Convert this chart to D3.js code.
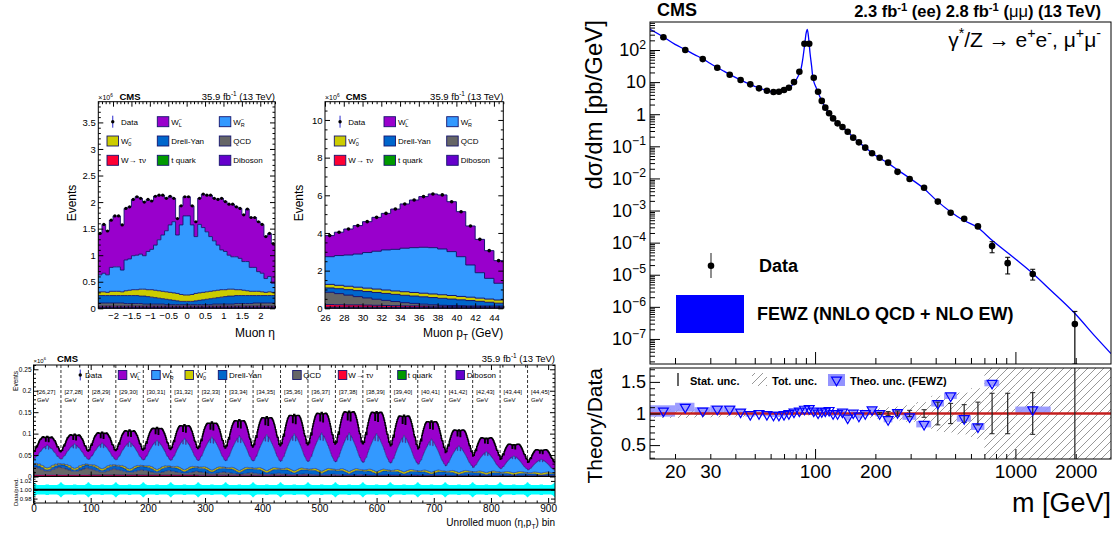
<!DOCTYPE html>
<html lang="en">
<head>
<meta charset="utf-8" />
<title>CMS W helicity distributions and Drell-Yan cross section</title>
<script src="https://d3js.org/d3.v7.min.js"></script>
<style>
  body { margin: 0; background: #fff; }
  svg { display: block; }
</style>
</head>
<body>
<svg id="chart" width="1113" height="534"></svg>
<script>
// ================= data =================
// stack order, bottom -> top
const stackKeys = ["dib", "topq", "tau", "qcd", "dy", "w0", "wr", "wl"];

// muon eta, 48 bins of 0.1 (x10^6 events), cumulative stack tops
const etaDibTop = [0.005,0.005,0.005,0.005,0.005,0.005,0.005,0.005,0.005,0.005,0.005,0.005,
  0.005,0.005,0.005,0.005,0.005,0.005,0.005,0.005,0.005,0.005,0.005,0.005,
  0.005,0.005,0.005,0.005,0.005,0.005,0.005,0.005,0.005,0.005,0.005,0.005,
  0.005,0.005,0.005,0.005,0.005,0.005,0.005,0.005,0.005,0.005,0.005,0.005];
const etaTopqTop = [0.015,0.015,0.015,0.015,0.015,0.015,0.015,0.015,0.015,0.015,0.015,0.015,
  0.015,0.015,0.015,0.015,0.015,0.015,0.015,0.015,0.015,0.015,0.015,0.015,
  0.015,0.015,0.015,0.015,0.015,0.015,0.015,0.015,0.015,0.015,0.015,0.015,
  0.015,0.015,0.015,0.015,0.015,0.015,0.015,0.015,0.015,0.015,0.015,0.015];
const etaTauTop = [0.04,0.04,0.04,0.04,0.04,0.04,0.04,0.04,0.04,0.04,0.04,0.04,
  0.04,0.04,0.04,0.04,0.04,0.04,0.04,0.04,0.04,0.04,0.04,0.04,
  0.04,0.04,0.04,0.04,0.04,0.04,0.04,0.04,0.04,0.04,0.04,0.04,
  0.04,0.04,0.04,0.04,0.04,0.04,0.04,0.04,0.04,0.04,0.04,0.04];
const etaQcdTop = [0.10,0.10,0.10,0.10,0.10,0.10,0.10,0.09,0.09,0.09,
  0.09,0.09,0.08,0.08,0.08,0.08,0.08,0.08,0.07,0.07,
  0.07,0.07,0.07,0.07,0.07,0.07,0.07,0.07,0.07,0.07,
  0.07,0.08,0.08,0.08,0.08,0.08,0.08,0.09,0.09,0.09,
  0.09,0.09,0.10,0.10,0.10,0.10,0.10,0.10];
const etaDyTop = [0.24,0.24,0.24,0.24,0.24,0.24,0.24,0.24,0.24,0.24,
  0.24,0.23,0.23,0.22,0.21,0.20,0.19,0.18,0.17,0.16,
  0.15,0.14,0.13,0.13,0.13,0.13,0.14,0.15,0.16,0.17,
  0.18,0.19,0.20,0.21,0.22,0.23,0.23,0.24,0.24,0.24,
  0.24,0.24,0.24,0.24,0.24,0.24,0.24,0.24];
const etaW0Top = [0.31,0.31,0.30,0.32,0.32,0.32,0.31,0.33,0.34,0.35,
  0.35,0.36,0.36,0.35,0.35,0.34,0.33,0.32,0.31,0.30,
  0.29,0.28,0.26,0.25,0.25,0.26,0.28,0.29,0.30,0.31,
  0.32,0.33,0.34,0.35,0.35,0.36,0.36,0.35,0.35,0.34,
  0.33,0.32,0.32,0.32,0.31,0.30,0.31,0.30];
const etaWRTop = [0.63,0.66,0.63,0.77,0.78,0.78,0.72,0.91,0.93,0.99,
  1.00,1.02,0.99,1.07,1.11,1.19,1.29,1.38,1.46,1.57,
  1.63,1.38,1.57,1.74,1.74,1.57,1.35,1.58,1.52,1.44,
  1.35,1.27,1.19,1.10,1.07,1.00,0.97,0.97,0.94,0.88,
  0.88,0.77,0.77,0.69,0.66,0.56,0.60,0.47];
const etaData = [1.41,1.58,1.455,1.66,1.74,1.74,1.57,1.88,1.91,2.05,
  2.10,2.07,2.00,2.05,2.02,2.11,2.13,2.13,2.07,2.11,
  2.07,1.69,1.93,2.10,2.10,1.93,1.63,2.07,2.15,2.13,
  2.13,2.07,2.05,2.07,2.01,1.96,1.96,1.91,1.88,1.76,
  1.87,1.71,1.71,1.63,1.58,1.35,1.41,1.22];

// muon pT, 19 bins of 1 GeV from 26 to 45 (x10^6 events), cumulative stack tops
const ptDibTop = [0.02,0.02,0.02,0.02,0.02,0.02,0.02,0.02,0.02,0.02,0.02,0.02,0.02,0.02,0.02,0.02,0.02,0.02,0.02];
const ptTopqTop = [0.06,0.06,0.06,0.06,0.06,0.06,0.05,0.05,0.05,0.05,0.05,0.05,0.05,0.05,0.05,0.04,0.04,0.04,0.04];
const ptTauTop = [0.20,0.19,0.18,0.18,0.17,0.16,0.15,0.14,0.13,0.13,0.12,0.11,0.11,0.10,0.10,0.09,0.09,0.08,0.08];
const ptQcdTop = [0.85,0.78,0.70,0.62,0.55,0.48,0.42,0.36,0.30,0.26,0.22,0.19,0.16,0.15,0.14,0.13,0.13,0.12,0.12];
const ptDyTop = [1.08,1.04,0.99,0.94,0.89,0.84,0.79,0.74,0.69,0.65,0.61,0.57,0.53,0.49,0.45,0.41,0.37,0.32,0.27];
const ptW0Top = [1.27,1.22,1.17,1.12,1.07,1.02,0.97,0.92,0.88,0.84,0.80,0.76,0.72,0.68,0.63,0.59,0.54,0.49,0.44];
const ptWRTop = [2.74,2.80,2.83,2.88,2.96,3.03,3.10,3.13,3.19,3.22,3.24,3.22,3.15,3.01,2.74,2.30,1.89,1.59,1.33];
const ptData = [3.86,4.04,4.21,4.39,4.60,4.83,5.04,5.27,5.54,5.75,5.93,6.07,6.02,5.66,5.13,4.37,3.66,3.06,2.53];
const ptBinLabels = ["[26,27]","[27,28]","[28,29]","[29,30]","[30,31]","[31,32]","[32,33]","[33,34]","[34,35]",
  "[35,36]","[36,37]","[37,38]","[38,39]","[39,40]","[40,41]","[41,42]","[42,43]","[43,44]","[44,45]"];

// shape of W_R and W_L across the 48 eta bins inside one unrolled pT slice (relative)
const unrollWRShape = [0.30,0.33,0.33,0.40,0.45,0.50,0.50,0.58,0.64,0.70,
  0.76,0.82,0.88,0.94,1.00,1.06,1.12,1.18,1.24,1.30,
  1.36,1.20,1.42,1.50,1.50,1.42,1.18,1.36,1.30,1.24,
  1.18,1.12,1.06,1.00,0.94,0.88,0.82,0.76,0.70,0.64,
  0.58,0.52,0.48,0.45,0.40,0.34,0.33,0.30];
const unrollWLShape = [0.75,0.80,0.78,0.88,0.95,1.00,0.92,1.08,1.12,1.16,
  1.20,1.22,1.24,1.25,1.24,1.22,1.18,1.12,1.06,1.00,
  0.94,0.82,0.90,0.88,0.88,0.90,0.80,0.94,1.00,1.06,
  1.12,1.18,1.22,1.24,1.25,1.24,1.22,1.20,1.16,1.12,
  1.08,1.00,0.95,0.97,0.88,0.78,0.80,0.75];
// data/prediction uncertainty band half width for each eta bin of a slice
const unrollRatioUnc = [0.017,0.016,0.014,0.013,0.012,0.012,0.011,0.011,0.011,0.011,
  0.011,0.011,0.011,0.011,0.011,0.011,0.011,0.011,0.011,0.011,
  0.011,0.012,0.012,0.012,0.012,0.012,0.012,0.011,0.011,0.011,
  0.011,0.011,0.011,0.011,0.011,0.011,0.011,0.011,0.011,0.011,
  0.011,0.011,0.012,0.012,0.013,0.014,0.016,0.017];

// Drell-Yan differential cross section
const dyEdges = [15,20,25,30,35,40,45,50,55,60,64,68,72,76,81,86,91,96,101,106,110,115,120,126,133,141,
  150,160,171,185,200,220,243,273,320,380,440,510,600,700,830,1000,1500,3000];
const dyMass = [17.5,22.5,27.5,32.5,37.5,42.5,47.5,52.5,57.5,62,66,70,74,78.5,83.5,88.5,93.5,98.5,103.5,108,
  112.5,117.5,123,129.5,137,145.5,155,165.5,178,192.5,210,231.5,258,296.5,350,410,475,555,650,765,915,1220,1980];
const dyXsec = [250,100,52,28,17,11.6,8.5,6.4,5.4,4.9,5.0,5.7,6.7,10,21,157,157,13.7,5.0,2.6,
  1.6,1.07,0.74,0.52,0.40,0.285,0.186,0.133,0.091,0.061,0.044,0.031,0.016,0.0096,0.0051,0.0019,
  8.5e-4,5.5e-4,3.2e-4,7.8e-5,2.3e-5,1.05e-5,2.9e-7];
const dyErrUp = [0.02,0.02,0.02,0.02,0.02,0.02,0.02,0.02,0.02,0.02,0.02,0.02,0.02,0.02,0.02,0.02,0.02,
  0.02,0.02,0.02,0.02,0.02,0.02,0.02,0.02,0.02,0.02,0.02,0.02,0.02,0.02,0.02,0.02,
  0.05,0.06,0.10,0.12,0.13,0.16,0.37,0.52,0.41,1.49];
const dyErrDn = [0.02,0.02,0.02,0.02,0.02,0.02,0.02,0.02,0.02,0.02,0.02,0.02,0.02,0.02,0.02,0.02,0.02,
  0.02,0.02,0.02,0.02,0.02,0.02,0.02,0.02,0.02,0.02,0.02,0.02,0.02,0.02,0.02,0.02,
  0.05,0.06,0.10,0.12,0.13,0.16,0.38,0.54,0.35,1.0];
// FEWZ prediction curve
const thMass = [15,17.5,20,22.5,25,27.5,30,35,40,45,50,55,60,64,68,72,76,80,83,84.7,
  86.7,88.7,90.2,91.5,92.9,94.4,96.2,97.3,98.5,101,104,108,112.5,117.5,123,129.5,137,145.5,155,165.5,
  178,192.5,210,231.5,258,296.5,350,406,474,550,646,762,1000,1202,1500,1977,2500,3000];
const thXsec = [441,255,150,103,72,53,38,22,14,9.8,7.4,5.9,5.1,4.8,5.0,5.8,7.4,11,17,22.6,
  49,144,330,441,230,79,30,14.8,10.5,7.0,4.4,2.6,1.6,1.07,0.74,0.52,0.39,0.285,0.19,0.133,
  0.092,0.062,0.043,0.030,0.0185,0.0102,0.0048,0.0020,9.2e-4,5.0e-4,3.0e-4,1.2e-4,3.1e-5,1.2e-5,3.3e-6,6.3e-7,1.2e-7,3.5e-8];
// theory/data ratio panel
const ratioTheo = [1.04,1.10,1.04,1.07,1.07,1.025,0.985,1.00,0.985,0.975,
  0.975,0.985,1.00,1.025,1.04,1.07,1.08,1.04,1.01,1.03,
  1.04,1.05,1.00,1.00,1.025,0.93,1.01,0.96,1.00,1.06,
  1.00,0.905,1.015,0.95,0.83,1.16,1.28,0.92,0.79,1.48,
  null,1.06,null];
const theoUnc = [0.09,0.07,0.06,0.06,0.06,0.045,0.035,0.03,0.03,0.03,
  0.03,0.03,0.03,0.03,0.03,0.03,0.03,0.03,0.03,0.035,
  0.035,0.035,0.035,0.035,0.035,0.04,0.04,0.04,0.04,0.04,
  0.045,0.045,0.045,0.05,0.05,0.05,0.05,0.05,0.05,0.05,
  0.05,0.05,0.05];
const statUnc = [0,0,0,0,0,0,0,0,0,0,0,0,0,0,0,0,0,0,0,0,0,0,0,0,0,0,0,0,0,0,
  0.015,0.03,0.04,0.05,0.06,0.18,0.16,0.14,0.18,0.32,0.32,0.33,3];
const totUnc = [0.07,0.07,0.06,0.06,0.06,0.05,0.04,0.04,0.035,0.035,
  0.03,0.03,0.03,0.03,0.03,0.03,0.03,0.03,0.03,0.03,
  0.03,0.035,0.035,0.04,0.04,0.045,0.05,0.055,0.06,0.07,
  0.08,0.10,0.11,0.13,0.18,0.28,0.30,0.33,0.40,0.75,
  1,1,1];

// ================= drawing =================
const FONT = "'Liberation Sans', Arial, Helvetica, sans-serif";
const NAVY = "#14146e";
const stackColor = {dib: "#6600cc", topq: "#009900", tau: "#ff0033", qcd: "#666666",
  dy: "#0066cc", w0: "#cccc00", wr: "#3399ff", wl: "#9900cc"};

const svg = d3.select("#chart");
svg.append("rect").attr("width", 1113).attr("height", 534).attr("fill", "#fff");
const defs = svg.append("defs");

// text with super/subscripts: parts are strings or [text, "sup"|"sub"|"", dx, weight]
function rich(g, x, y, parts, o = {}) {
  const fs = o.size || 10;
  const supLv = o.sup || -0.42;
  const t = g.append("text").attr("x", x).attr("y", y)
    .attr("font-family", FONT).attr("font-size", fs)
    .attr("font-weight", o.weight || "normal")
    .attr("text-anchor", o.anchor || "start").attr("fill", o.fill || "#000");
  if (o.rotate) t.attr("transform", `rotate(${o.rotate},${x},${y})`);
  let level = 0;
  parts.forEach(p => {
    const [s, mode, dx, w] = Array.isArray(p) ? p : [p, "", 0];
    const lv = mode === "sup" ? supLv : mode === "sub" ? 0.28 : 0;
    const ts = t.append("tspan").text(s);
    if (lv !== level) ts.attr("dy", ((lv - level) * fs).toFixed(2));
    if (dx) ts.attr("dx", dx);
    if (mode) ts.attr("font-size", (fs * 0.68).toFixed(2));
    if (w) ts.attr("font-weight", w);
    level = lv;
  });
  return t;
}

function frame(g, P) {
  g.append("rect").attr("x", P.x0).attr("y", P.y0)
    .attr("width", P.x1 - P.x0).attr("height", P.y1 - P.y0)
    .attr("fill", "none").attr("stroke", "#000").attr("stroke-width", 1);
}

// ticks point into the frame (ROOT style)
function axis(g, scale, side, pos, values, len, o = {}) {
  const make = {bottom: d3.axisBottom, top: d3.axisTop, left: d3.axisLeft, right: d3.axisRight}[side];
  const ax = make(scale).tickValues(values).tickSizeInner(-len).tickSizeOuter(0)
    .tickPadding(o.pad || 3).tickFormat(o.fmt || (() => ""));
  const horiz = side === "bottom" || side === "top";
  const a = g.append("g").attr("transform", horiz ? `translate(0,${pos})` : `translate(${pos},0)`).call(ax);
  a.attr("font-family", FONT).attr("font-size", o.fs || 10);
  a.select(".domain").remove();
  a.selectAll(".tick line").attr("stroke", "#000").attr("stroke-width", o.sw || 1);
  a.selectAll(".tick text").attr("fill", "#000");
  return a;
}

function minorTicks(a, b, step, majorStep) {
  const out = [];
  const n = Math.round((b - a) / step);
  for (let i = 0; i <= n; i++) {
    const v = +(a + i * step).toFixed(6);
    const r = v / majorStep;
    if (Math.abs(r - Math.round(r)) > 1e-6) out.push(v);
  }
  return out;
}

function drawStack(g, x, y, edges, tops, lw) {
  const n = edges.length - 1;
  const layers = tops.map((hi, k) => edges.map((e, i) => {
    const j = Math.min(i, n - 1);
    return {e, lo: k ? tops[k - 1][j] : 0, hi: hi[j]};
  }));
  const area = d3.area().curve(d3.curveStepAfter).x(d => x(d.e)).y0(d => y(d.lo)).y1(d => y(d.hi));
  const line = d3.line().curve(d3.curveStepAfter).x(d => x(d.e)).y(d => y(d.hi));
  layers.forEach((pts, k) => g.append("path").attr("d", area(pts)).attr("fill", stackColor[stackKeys[k]]));
  layers.forEach(pts => g.append("path").attr("d", line(pts))
    .attr("fill", "none").attr("stroke", NAVY).attr("stroke-width", lw));
}

const legendLabels = {
  data: ["Data"],
  wl: ["W", ["\u2212", "sup"], ["L", "sub", -3.4]],
  wr: ["W", ["\u2212", "sup"], ["R", "sub", -3.4]],
  w0: ["W", ["\u2212", "sup"], ["0", "sub", -3.4]],
  dy: ["Drell-Yan"], qcd: ["QCD"], tau: ["W\u2192 \u03c4\u03bd"],
  topq: ["t quark"], dib: ["Diboson"]
};

function legendEntry(g, key, bx, cy, bw, bh, tx, fs) {
  if (key === "data") {
    g.append("line").attr("x1", bx + bw / 2).attr("x2", bx + bw / 2)
      .attr("y1", cy - bh * 0.6).attr("y2", cy + bh * 0.6).attr("stroke", "#2a2acc").attr("stroke-width", 1);
    g.append("circle").attr("cx", bx + bw / 2).attr("cy", cy).attr("r", 1.7).attr("fill", "#000");
  } else {
    g.append("rect").attr("x", bx).attr("y", cy - bh / 2).attr("width", bw).attr("height", bh)
      .attr("fill", stackColor[key]).attr("stroke", NAVY).attr("stroke-width", 0.9);
  }
  rich(g, tx, cy + fs * 0.35, legendLabels[key], {size: fs});
}

const legendGrid = [["data", "wl", "wr"], ["w0", "dy", "qcd"], ["tau", "topq", "dib"]];

function headerSmall(g, P, cmsX, fs) {
  rich(g, P.x0, P.y0 - 2, ["\u00d710", ["6", "sup"]], {size: 7});
  rich(g, cmsX, P.y0 - 1.7, ["CMS"], {size: fs, weight: "bold"});
  rich(g, P.x1, P.y0 - 1.7, ["35.9 fb", ["-1", "sup"], " (13 TeV)"], {size: fs, anchor: "end"});
}

// ---------- panel A: muon eta ----------
{
  const P = {x0: 98.3, x1: 275, y0: 101.7, y1: 308.3};
  const g = svg.append("g");
  const x = d3.scaleLinear().domain([-2.4, 2.4]).range([P.x0, P.x1]);
  const y = d3.scaleLinear().domain([0, 3.89]).range([P.y1, P.y0]);
  const edges = d3.range(49).map(i => -2.4 + 0.1 * i);
  drawStack(g, x, y, edges, [etaDibTop, etaTopqTop, etaTauTop, etaQcdTop, etaDyTop, etaW0Top, etaWRTop, etaData], 0.9);
  g.selectAll("circle.pt").data(etaData).join("circle").attr("class", "pt")
    .attr("cx", (d, i) => x(edges[i] + 0.05)).attr("cy", d => y(d)).attr("r", 1.6).attr("fill", "#000");
  frame(g, P);
  const xMaj = [-2, -1.5, -1, -0.5, 0, 0.5, 1, 1.5, 2];
  const xMin = minorTicks(-2.4, 2.4, 0.1, 0.5);
  const yMaj = [0, 0.5, 1, 1.5, 2, 2.5, 3, 3.5];
  const yMin = minorTicks(0, 3.8, 0.1, 0.5);
  axis(g, x, "bottom", P.y1, xMaj, 5, {fmt: d => (d < 0 ? "\u2212" + (-d) : String(d)), fs: 9.5, pad: 4});
  axis(g, x, "bottom", P.y1, xMin, 2.5);
  axis(g, x, "top", P.y0, xMaj, 5);
  axis(g, x, "top", P.y0, xMin, 2.5);
  axis(g, y, "left", P.x0, yMaj, 5, {fmt: String, fs: 9.5, pad: 2.5});
  axis(g, y, "left", P.x0, yMin, 2.5);
  axis(g, y, "right", P.x1, yMaj, 5);
  axis(g, y, "right", P.x1, yMin, 2.5);
  const cols = [107, 157.3, 219.3], rows = [121.7, 141, 160.3];
  legendGrid.forEach((row, r) => row.forEach((key, c) =>
    legendEntry(g, key, cols[c], rows[r], 11.5, 10, cols[c] + 14, 8)));
  headerSmall(g, P, 119.5, 9.5);
  rich(g, 76, 203, ["Events"], {size: 12, anchor: "middle", rotate: -90});
  rich(g, P.x1, 337, ["Muon \u03b7"], {size: 12, anchor: "end"});
}

// ---------- panel B: muon pT ----------
{
  const P = {x0: 325, x1: 503.3, y0: 101.7, y1: 308.3};
  const g = svg.append("g");
  const x = d3.scaleLinear().domain([26, 45]).range([P.x0, P.x1]);
  const y = d3.scaleLinear().domain([0, 10.97]).range([P.y1, P.y0]);
  const edges = d3.range(20).map(i => 26 + i);
  drawStack(g, x, y, edges, [ptDibTop, ptTopqTop, ptTauTop, ptQcdTop, ptDyTop, ptW0Top, ptWRTop, ptData], 1);
  g.selectAll("circle.pt").data(ptData).join("circle").attr("class", "pt")
    .attr("cx", (d, i) => x(edges[i] + 0.5)).attr("cy", d => y(d)).attr("r", 1.8).attr("fill", "#000");
  frame(g, P);
  const xMaj = d3.range(26, 45, 2);
  const xMin = minorTicks(26, 45, 0.5, 2);
  const yMaj = [0, 2, 4, 6, 8, 10];
  const yMin = minorTicks(0, 10.5, 0.5, 2);
  axis(g, x, "bottom", P.y1, xMaj, 5, {fmt: String, fs: 9.5, pad: 5.5});
  axis(g, x, "bottom", P.y1, xMin, 2.5);
  axis(g, x, "top", P.y0, xMaj, 5);
  axis(g, x, "top", P.y0, xMin, 2.5);
  axis(g, y, "left", P.x0, yMaj, 5, {fmt: String, fs: 9.5, pad: 2.5});
  axis(g, y, "left", P.x0, yMin, 2.5);
  axis(g, y, "right", P.x1, yMaj, 5);
  axis(g, y, "right", P.x1, yMin, 2.5);
  const cols = [334.3, 384, 446.7], rows = [121.7, 141, 160.3];
  legendGrid.forEach((row, r) => row.forEach((key, c) =>
    legendEntry(g, key, cols[c], rows[r], 11.5, 10, cols[c] + 14, 8)));
  headerSmall(g, P, 345.7, 9.5);
  rich(g, 303, 203, ["Events"], {size: 12, anchor: "middle", rotate: -90});
  rich(g, P.x1, 337, ["Muon p", ["T", "sub"], " (GeV)"], {size: 12, anchor: "end"});
}

// ---------- panel C: unrolled (eta, pT) ----------
{
  const P = {x0: 33.5, x1: 555, y0: 365, y1: 476.5};
  const R = {x0: 33.5, x1: 555, y0: 476.5, y1: 503};
  const g = svg.append("g");
  const nEta = etaData.length, nPt = ptData.length, nBins = nEta * nPt;
  const x = d3.scaleLinear().domain([0, nBins]).range([P.x0, P.x1]);
  const y = d3.scaleLinear().domain([0, 0.26]).range([P.y1, P.y0]);
  const yr = d3.scaleLinear().domain([0.97, 1.03]).range([R.y1, R.y0]);

  // every unrolled bin: pT-slice yield of a component spread over eta with that component's eta shape
  const etaTops = [etaDibTop, etaTopqTop, etaTauTop, etaQcdTop, etaDyTop, etaW0Top, etaWRTop, etaData];
  const ptTops = [ptDibTop, ptTopqTop, ptTauTop, ptQcdTop, ptDyTop, ptW0Top, ptWRTop, ptData];
  const part = (tops, k, i) => tops[k][i] - (k ? tops[k - 1][i] : 0);
  const tops = [];
  let run = d3.range(nBins).map(() => 0);
  stackKeys.forEach((key, k) => {
    const shape = key === "wr" ? unrollWRShape : key === "wl" ? unrollWLShape : d3.range(nEta).map(i => part(etaTops, k, i));
    const m = d3.mean(shape);
    run = run.map((v, b) => v + part(ptTops, k, Math.floor(b / nEta)) / nEta * shape[b % nEta] / m);
    tops.push(run);
  });
  const edges = d3.range(nBins + 1);

  // slice separators
  d3.range(1, nPt).forEach(j => g.append("line")
    .attr("x1", x(j * nEta)).attr("x2", x(j * nEta)).attr("y1", P.y0).attr("y2", P.y1)
    .attr("stroke", "#000").attr("stroke-width", 0.8).attr("stroke-dasharray", "3,2"));
  drawStack(g, x, y, edges, tops, 0.5);
  const total = tops[tops.length - 1];
  g.append("path").attr("d", d3.line().curve(d3.curveStepAfter).x(d => x(d.e)).y(d => y(d.v))(
      edges.map((e, i) => ({e, v: total[Math.min(i, nBins - 1)]}))))
    .attr("fill", "none").attr("stroke", "#000").attr("stroke-width", 1.3);

  ptBinLabels.forEach((lab, j) => {
    rich(g, x(j * nEta) + 3.5, 394, [lab], {size: 6});
    rich(g, x(j * nEta) + 3.5, 402, ["GeV"], {size: 6});
  });

  // ratio panel
  const band = edges.map((e, i) => ({e, u: unrollRatioUnc[Math.min(i, nBins - 1) % nEta]}));
  g.append("path").attr("d", d3.area().curve(d3.curveStepAfter).x(d => x(d.e))
      .y0(d => yr(1 - d.u)).y1(d => yr(1 + d.u))(band)).attr("fill", "#00ffff");
  g.append("path").attr("d", d3.area().curve(d3.curveStepAfter).x(d => x(d.e))
      .y0(() => yr(0.9975)).y1(() => yr(1.0025))(band)).attr("fill", "#000");

  frame(g, P);
  frame(g, R);
  const xMaj = d3.range(0, 901, 100);
  const xMin = minorTicks(0, 900, 20, 100);
  axis(g, x, "bottom", R.y1, xMaj, 5, {fmt: String, fs: 10, pad: 2});
  axis(g, x, "bottom", R.y1, xMin, 2.5);
  axis(g, x, "bottom", P.y1, xMaj, 5);
  axis(g, x, "bottom", P.y1, xMin, 2.5);
  axis(g, x, "top", P.y0, xMaj, 5);
  axis(g, x, "top", P.y0, xMin, 2.5);
  const yMaj = [0, 0.05, 0.1, 0.15, 0.2, 0.25];
  const yMin = minorTicks(0, 0.26, 0.01, 0.05);
  axis(g, y, "left", P.x0, yMaj, 5, {fmt: String, fs: 6.5, pad: 2});
  axis(g, y, "left", P.x0, yMin, 2.5);
  axis(g, y, "right", P.x1, yMaj, 5);
  axis(g, y, "right", P.x1, yMin, 2.5);
  const rMaj = [0.98, 1.0, 1.02];
  axis(g, yr, "left", R.x0, rMaj, 4, {fmt: d3.format(".2f"), fs: 6, pad: 2});
  axis(g, yr, "left", R.x0, minorTicks(0.97, 1.03, 0.005, 0.02), 2);
  axis(g, yr, "right", R.x1, rMaj, 4);

  // legend row
  const lg = [["data", 76, 85], ["wl", 118.3, 130], ["wr", 151.7, 162.3], ["w0", 185, 195.7], ["dy", 218.3, 229],
    ["qcd", 292.7, 303.3], ["tau", 338.3, 348.3], ["topq", 397.7, 407.7], ["dib", 456, 466.7]];
  lg.forEach(([key, bx, tx]) => legendEntry(g, key, bx, 375, 8.5, 9, tx, 8));

  rich(g, P.x0, P.y0 - 2, ["\u00d710", ["6", "sup"]], {size: 6});
  rich(g, 57, 362, ["CMS"], {size: 9.5, weight: "bold"});
  rich(g, P.x1, 362, ["35.9 fb", ["-1", "sup"], " (13 TeV)"], {size: 9.5, anchor: "end"});
  rich(g, 18, 371, ["Events"], {size: 6.5, anchor: "end", rotate: -90});
  rich(g, 18, 492, ["Data/pred."], {size: 6, anchor: "middle", rotate: -90});
  rich(g, P.x1, 526, ["Unrolled muon (\u03b7,p", ["T", "sub"], ") bin"], {size: 10, anchor: "end"});
}

// ---------- panel D: Drell-Yan cross section ----------
{
  const P = {x0: 650, x1: 1111, y0: 22, y1: 364};
  const R = {x0: 650, x1: 1111, y0: 368, y1: 459};
  const g = svg.append("g");
  const x = d3.scaleLog().domain([15, 3000]).range([P.x0, P.x1]);
  const y = d3.scaleLog().domain([1.66e-8, 745]).range([P.y1, P.y0]);
  const yr = d3.scaleLinear().domain([0.28, 1.72]).range([R.y1, R.y0]);
  const yMin = y.domain()[0];

  defs.append("clipPath").attr("id", "clipMain").append("rect")
    .attr("x", P.x0).attr("y", P.y0).attr("width", P.x1 - P.x0).attr("height", P.y1 - P.y0);
  defs.append("clipPath").attr("id", "clipRatio").append("rect")
    .attr("x", R.x0).attr("y", R.y0).attr("width", R.x1 - R.x0).attr("height", R.y1 - R.y0);
  const pat = defs.append("pattern").attr("id", "hatch").attr("patternUnits", "userSpaceOnUse")
    .attr("width", 8).attr("height", 8);
  pat.append("path").attr("d", "M-2,2 L2,-2 M0,8 L8,0 M6,10 L10,6")
    .attr("stroke", "#8c8c8c").attr("stroke-width", 0.9);

  // main panel
  const gm = g.append("g").attr("clip-path", "url(#clipMain)");
  gm.append("path").datum(thMass.map((m, i) => ({m, v: thXsec[i]})))
    .attr("d", d3.line().curve(d3.curveMonotoneX).x(d => x(d.m)).y(d => y(d.v)))
    .attr("fill", "none").attr("stroke", "#0000ff").attr("stroke-width", 1.3);
  dyMass.forEach((m, i) => {
    const v = dyXsec[i];
    const yt = y(v * (1 + dyErrUp[i])), yb = y(Math.max(v * (1 - dyErrDn[i]), yMin));
    if (yb - yt > 7) {
      gm.append("line").attr("x1", x(m)).attr("x2", x(m)).attr("y1", yt).attr("y2", yb)
        .attr("stroke", "#000").attr("stroke-width", 1.2);
      [yt, yb].forEach(yy => gm.append("line").attr("x1", x(m) - 2.5).attr("x2", x(m) + 2.5)
        .attr("y1", yy).attr("y2", yy).attr("stroke", "#000").attr("stroke-width", 1));
    }
  });
  gm.selectAll("circle.dy").data(dyMass).join("circle").attr("class", "dy")
    .attr("cx", d => x(d)).attr("cy", (d, i) => y(dyXsec[i])).attr("r", 3.3).attr("fill", "#000");
  frame(g, P);

  const decades = d3.range(-7, 3).map(p => Math.pow(10, p));
  const logMinor = [];
  d3.range(-8, 3).forEach(p => d3.range(2, 10).forEach(k => {
    const v = k * Math.pow(10, p);
    if (v > yMin && v < y.domain()[1]) logMinor.push(v);
  }));
  axis(g, y, "left", P.x0, decades, 10);
  axis(g, y, "left", P.x0, logMinor, 5);
  decades.forEach(v => {
    const p = Math.round(Math.log10(v));
    const parts = p === 0 ? ["1"] : p === 1 ? ["10"] : ["10", [p < 0 ? "\u2212" + (-p) : String(p), "sup"]];
    rich(g, P.x0 - 4, y(v) + 6.3, parts, {size: 18, anchor: "end"});
  });
  const xMinor = [20, 30, 40, 50, 60, 70, 80, 90, 200, 300, 400, 500, 600, 700, 800, 900, 2000];
  const xMajor = [100, 1000];
  axis(g, x, "bottom", P.y1, xMinor, 6);
  axis(g, x, "bottom", P.y1, xMajor, 12);

  // legend in main panel
  g.append("line").attr("x1", 711).attr("x2", 711).attr("y1", 253).attr("y2", 278)
    .attr("stroke", "#444").attr("stroke-width", 1.2);
  g.append("circle").attr("cx", 711).attr("cy", 265.7).attr("r", 3.3).attr("fill", "#000");
  rich(g, 759, 272, ["Data"], {size: 18, weight: "bold"});
  g.append("rect").attr("x", 676).attr("y", 295).attr("width", 68).attr("height", 38).attr("fill", "#0000ff");
  rich(g, 757, 320, ["FEWZ (NNLO QCD + NLO EW)"], {size: 18, weight: "bold"});

  // ratio panel
  const gr = g.append("g").attr("clip-path", "url(#clipRatio)");
  totUnc.forEach((u, i) => gr.append("rect")
    .attr("x", x(dyEdges[i])).attr("width", x(dyEdges[i + 1]) - x(dyEdges[i]))
    .attr("y", yr(1 + u)).attr("height", yr(1 - u) - yr(1 + u)).attr("fill", "url(#hatch)"));
  ratioTheo.forEach((r, i) => {
    if (r === null) return;
    gr.append("rect").attr("x", x(dyEdges[i])).attr("width", x(dyEdges[i + 1]) - x(dyEdges[i]))
      .attr("y", yr(r + theoUnc[i])).attr("height", yr(r - theoUnc[i]) - yr(r + theoUnc[i]))
      .attr("fill", "#9393ff").attr("opacity", 0.9);
  });
  gr.append("line").attr("x1", R.x0).attr("x2", R.x1).attr("y1", yr(1)).attr("y2", yr(1))
    .attr("stroke", "#c41e1e").attr("stroke-width", 2.5);
  statUnc.forEach((s, i) => {
    if (s < 0.01) return;
    const xs = x(dyMass[i]);
    gr.append("line").attr("x1", xs).attr("x2", xs).attr("y1", yr(1 + s)).attr("y2", yr(1 - s))
      .attr("stroke", "#222").attr("stroke-width", 1.2);
    [yr(1 + s), yr(1 - s)].forEach(yy => gr.append("line").attr("x1", xs - 2.5).attr("x2", xs + 2.5)
      .attr("y1", yy).attr("y2", yy).attr("stroke", "#222").attr("stroke-width", 1));
  });
  const tri = d3.symbol().type(d3.symbolTriangle).size(42);
  ratioTheo.forEach((r, i) => {
    if (r === null) return;
    gr.append("path").attr("d", tri()).attr("transform", `translate(${x(dyMass[i])},${yr(r)}) rotate(180)`)
      .attr("fill", "none").attr("stroke", "#0000ff").attr("stroke-width", 1.2);
  });
  frame(g, R);
  axis(g, yr, "left", R.x0, [0.5, 1, 1.5], 10);
  axis(g, yr, "left", R.x0, [0.3, 0.4, 0.6, 0.7, 0.8, 0.9, 1.1, 1.2, 1.3, 1.4, 1.6, 1.7], 5);
  [0.5, 1, 1.5].forEach(v => rich(g, R.x0 - 4, yr(v) + 6.3, [String(v)], {size: 18, anchor: "end"}));
  axis(g, x, "bottom", R.y1, xMinor, 5);
  axis(g, x, "bottom", R.y1, xMajor, 10);
  axis(g, x, "bottom", R.y1, [20, 30, 100, 200, 1000, 2000], 0, {fmt: String, fs: 19, pad: 5.5});

  // ratio legend
  g.append("line").attr("x1", 678).attr("x2", 678).attr("y1", 373).attr("y2", 386)
    .attr("stroke", "#000").attr("stroke-width", 1.2);
  rich(g, 690, 385, ["Stat. unc."], {size: 11, weight: "bold"});
  g.append("rect").attr("x", 752).attr("y", 373).attr("width", 15).attr("height", 13).attr("fill", "url(#hatch)");
  rich(g, 772, 385, ["Tot. unc."], {size: 11, weight: "bold"});
  g.append("rect").attr("x", 828).attr("y", 374).attr("width", 17).attr("height", 12).attr("fill", "#9393ff");
  g.append("path").attr("d", tri()).attr("transform", "translate(836.5,380) rotate(180)")
    .attr("fill", "none").attr("stroke", "#0000ff").attr("stroke-width", 1.2);
  rich(g, 850, 385, ["Theo. unc. (FEWZ)"], {size: 11, weight: "bold"});

  // titles
  rich(g, 657, 15.5, ["CMS"], {size: 18, weight: "bold"});
  rich(g, 1101, 16.5, ["2.3 fb", ["-1", "sup"], [" (ee) 2.8 fb", ""], ["-1", "sup"], [" (", ""],
    ["\u03bc\u03bc", "", 0, "normal"], [") (13 TeV)", ""]], {size: 16.5, weight: "bold", anchor: "end", sup: -0.34});
  rich(g, 1101, 47, ["\u03b3", ["*", "sup"], ["/Z \u2192 e", ""], ["+", "sup"], ["e", ""], ["-", "sup"],
    [", \u03bc", ""], ["+", "sup"], ["\u03bc", ""], ["-", "sup"]], {size: 21, anchor: "end"});
  rich(g, 602, 20, ["d\u03c3/dm [pb/GeV]"], {size: 24, anchor: "end", rotate: -90});
  rich(g, 602, 368, ["Theory/Data"], {size: 21, anchor: "end", rotate: -90});
  rich(g, 1111, 512, ["m [GeV]"], {size: 27, anchor: "end"});
}
</script>
</body>
</html>
